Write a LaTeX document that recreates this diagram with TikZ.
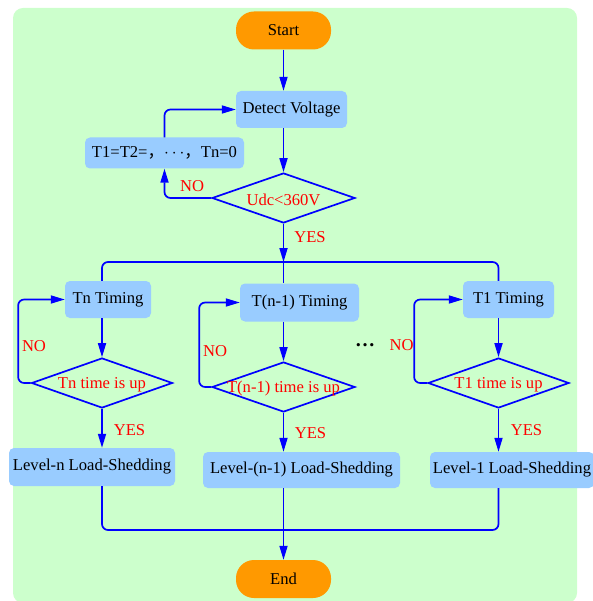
\documentclass[tikz,border=0pt]{standalone}
\usepackage{fontspec}
\setmainfont{Liberation Serif}
\newfontfamily\cjk{Noto Sans CJK SC}
\usetikzlibrary{arrows.meta, shapes.geometric, positioning, calc}

\definecolor{bggreen}{HTML}{CCFFCC}
\definecolor{boxblue}{HTML}{99CCFF}
\definecolor{termorange}{HTML}{FF9900}

\begin{document}
\begin{tikzpicture}[
    x=1pt, y=-1pt,
    font=\fontsize{16.6}{20}\selectfont,
    proc/.style={fill=boxblue, rounded corners=5pt, minimum height=37pt, inner sep=0pt},
    term/.style={fill=termorange, rounded corners=18pt, minimum width=95pt, minimum height=38pt, inner sep=0pt},
    decision/.style={draw=blue, line width=1.7pt, diamond, minimum width=141pt, minimum height=50pt, inner sep=0pt},
    wire/.style={draw=blue, line width=1.7pt, rounded corners=6pt},
    flow/.style={wire, -{Triangle[length=14pt, width=8pt]}},
    answer/.style={text=red, inner sep=0pt},
    test/.style={text=red, yshift=-2pt},
]
    \useasboundingbox (0,0) rectangle (592,601);
    % background panel
    \fill[bggreen, rounded corners=10pt] (13,8) rectangle (577,603);

    % top part
    \node[term] (start) at (283.5,30.5) {Start};
    \node[proc, minimum width=111pt] (detect) at (291.5,109.5) {Detect Voltage};
    \node[proc, minimum width=159pt, minimum height=31pt] (reset) at (164.5,153) {T1=T2={\cjk ，}$\cdots${\cjk ，}Tn=0};
    \node[decision, minimum width=143pt, label={[test]center:Udc<360V}] (udc) at (283.5,198) {};
    \coordinate (split) at (283.5,262);

    % Tn column
    \node[proc, minimum width=86pt] (tn) at (108,299.5) {Tn Timing};
    \node[decision, label={[test]center:Tn time is up}] (dn) at (102,383) {};
    \node[proc, minimum width=166pt, minimum height=38pt] (ln) at (92,467) {Level-n Load-Shedding};

    % T(n-1) column
    \node[proc, minimum width=119pt, minimum height=38pt] (tm) at (299.5,302.5) {T(n-1) Timing};
    \node[decision, minimum width=143pt, label={[test]center:T(n-1) time is up}] (dm) at (283.5,387) {};
    \node[proc, minimum width=197pt, minimum height=36pt] (lm) at (301.5,470) {Level-(n-1) Load-Shedding};

    % T1 column
    \node[proc, minimum width=91pt] (t1) at (508.5,299.5) {T1 Timing};
    \node[decision, label={[test]center:T1 time is up}] (d1) at (498.5,383) {};
    \node[proc, minimum width=164pt, minimum height=36pt] (l1) at (512,470) {Level-1 Load-Shedding};

    \node[font=\fontsize{20}{24}\selectfont\bfseries] (dots) at (365,345) {…};

    \coordinate (join) at (283.5,530);
    \node[term] (end) at (283.5,579) {End};

    % connectors, top part
    \draw[flow] (start.south) -- (start.south |- detect.north);
    \draw[flow] (udc.north |- detect.south) -- (udc.north);
    \draw[flow] (udc.west) -| (reset.south);
    \draw[flow] (reset.north) |- (detect.west);
    \draw[flow] (udc.south) -- (split);
    \node[answer] (nou) at (192,186) {NO};
    \node[answer] (yesu) at (310,237) {YES};

    % branch to the timers
    \draw[wire] (dn.north |- tn.north) |- (split) -| (d1.north |- t1.north);
    \draw[wire] (split) -- (split |- tm.north);

    % Tn column
    \draw[flow] (dn.north |- tn.south) -- (dn.north);
    \draw[flow] (dn.west) -- ++(-12.5,0) |- (tn.west);
    \draw[flow] (dn.south) -- (dn.south |- ln.north);
    \node[answer] (non) at (34,346) {NO};
    \node[answer] (yesn) at (129.5,430) {YES};

    % T(n-1) column
    \draw[flow] (dm.north |- tm.south) -- (dm.north);
    \draw[flow] (dm.west) -- ++(-12,0) |- (tm.west);
    \draw[flow] (dm.south) -- (dm.south |- lm.north);
    \node[answer] (nom) at (215,351) {NO};
    \node[answer] (yesm) at (310.5,433) {YES};

    % T1 column
    \draw[flow] (d1.north |- t1.south) -- (d1.north);
    \draw[flow] (d1.west) -- ++(-13,0) |- (t1.west);
    \draw[flow] (d1.south) -- (d1.south |- l1.north);
    \node[answer] (no1) at (401.5,345) {NO};
    \node[answer] (yes1) at (526.5,430) {YES};

    % merge to the end
    \draw[wire] (dn.south |- ln.south) |- (join) -| (d1.south |- l1.south);
    \draw[flow] (dm.south |- lm.south) -- (end.north);
\end{tikzpicture}
\end{document}
